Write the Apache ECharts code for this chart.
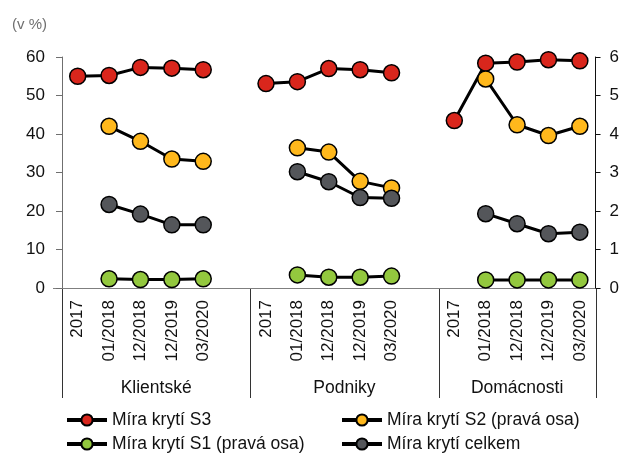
<!DOCTYPE html>
<html><head><meta charset="utf-8">
<script src="https://cdn.jsdelivr.net/npm/echarts@6/dist/echarts.min.js"></script>
<style>html,body{margin:0;padding:0;background:#fff}#c{width:622px;height:453px}</style>
</head><body><div id="c"></div>
<script>
// ---- data ----
const categories = ['2017','01/2018','12/2018','12/2019','03/2020','',
                    '2017','01/2018','12/2018','12/2019','03/2020','',
                    '2017','01/2018','12/2018','12/2019','03/2020'];
const groupNames = ['Klientské','Podniky','Domácnosti'];
const groupFirst = [0, 6, 12];
const groupLast  = [5, 11, 16];
const leftTicks = [0, 60, 10];   // min, max, interval
const rightTicks = [0, 6, 1];
const seriesNames = ['Míra krytí S3','Míra krytí S2 (pravá osa)','Míra krytí S1 (pravá osa)','Míra krytí celkem'];
const s3     = [55.0,55.2,57.3,57.1,56.7,null, 53.1,53.6,57.0,56.7,55.9,null, 43.5,58.4,58.7,59.3,59.0];
const s2     = [null,4.20,3.81,3.35,3.29,null, null,3.64,3.53,2.77,2.60,null, null,5.43,4.24,3.96,4.20];
const s1     = [null,0.24,0.22,0.22,0.24,null, null,0.34,0.28,0.28,0.31,null, null,0.21,0.21,0.21,0.21];
const celkem = [null,21.7,19.2,16.4,16.4,null, null,30.2,27.6,23.5,23.3,null, null,19.3,16.7,14.1,14.5];

const FONT = '"Liberation Sans", Arial, sans-serif';
const colors = ['#D9261C', '#FFB81C', '#93C83E', '#54565A'];
const chart = echarts.init(document.getElementById('c'), null, {renderer: 'canvas'});

function lineSeries(name, data, color, yIdx) {
  return {
    name, type: 'line', data, yAxisIndex: yIdx, symbol: 'circle', symbolSize: 16,
    connectNulls: false, showAllSymbol: true,
    lineStyle: {color: '#000', width: 3},
    itemStyle: {color: color, borderColor: '#000', borderWidth: 1.5},
    emphasis: {disabled: true}, animation: false
  };
}
const legendText = {fontSize: 17.5, color: '#111', fontFamily: FONT, lineHeight: 18};
function legendAt(names, left) {
  return {data: names, orient: 'vertical', left: left, top: 411, height: 44, padding: 0,
    itemWidth: 40, itemHeight: 14, itemGap: 6, selectedMode: false, textStyle: legendText,
    lineStyle: {width: 4, color: '#000'}};
}

chart.setOption({
  animation: false,
  title: {text: '(v %)', left: 7, top: 12, textStyle: {fontSize: 15, fontWeight: 'normal', color: '#707070', fontFamily: FONT}},
  grid: {left: 62, right: 26, top: 57, bottom: 165},
  xAxis: {
    type: 'category', data: categories, boundaryGap: true,
    axisLine: {lineStyle: {color: '#7f7f7f', width: 1}},
    axisTick: {show: false},
    axisLabel: {interval: 0, rotate: 90, margin: 12, fontSize: 17, color: '#111', fontFamily: FONT}
  },
  yAxis: [
    {type: 'value', position: 'left', min: leftTicks[0], max: leftTicks[1], interval: leftTicks[2],
     axisLine: {show: true, lineStyle: {color: '#6f6f6f'}},
     axisTick: {show: true, length: 6, lineStyle: {color: '#6f6f6f'}},
     splitLine: {show: false},
     axisLabel: {margin: 17, fontSize: 17, color: '#111', fontFamily: FONT}},
    {type: 'value', position: 'right', min: rightTicks[0], max: rightTicks[1], interval: rightTicks[2],
     axisLine: {show: true, lineStyle: {color: '#111'}},
     axisTick: {show: true, length: 5, lineStyle: {color: '#111'}},
     splitLine: {show: false},
     axisLabel: {margin: 14, fontSize: 17, color: '#111', fontFamily: FONT}}
  ],
  legend: [
    legendAt([seriesNames[0], seriesNames[2]], 65),
    legendAt([seriesNames[1], seriesNames[3]], 340)
  ],
  series: [
    lineSeries(seriesNames[0], s3, colors[0], 0),
    lineSeries(seriesNames[1], s2, colors[1], 1),
    lineSeries(seriesNames[2], s1, colors[2], 1),
    lineSeries(seriesNames[3], celkem, colors[3], 0)
  ]
});

// group separators and group labels placed via the axis scale
const x0 = chart.convertToPixel({xAxisIndex: 0}, 0);
const x1 = chart.convertToPixel({xAxisIndex: 0}, 1);
const band = x1 - x0;
const yZero = chart.convertToPixel({yAxisIndex: 0}, 0);
const g = [];
const bounds = new Set();
groupFirst.forEach((f, i) => {
  const l = chart.convertToPixel({xAxisIndex: 0}, f) - band / 2;
  const r = chart.convertToPixel({xAxisIndex: 0}, groupLast[i]) + band / 2;
  bounds.add(Math.round(l) + 0.5); bounds.add(Math.round(r) + 0.5);
  g.push({type: 'text', x: (l + r) / 2, y: yZero + 100,
    style: {text: groupNames[i], fill: '#111', font: '17.5px ' + FONT, align: 'center', verticalAlign: 'middle'}});
});
bounds.forEach(bx => g.push({type: 'line', shape: {x1: bx, y1: yZero, x2: bx, y2: yZero + 110}, style: {stroke: '#333', lineWidth: 1}}));
g.push({type: 'line', shape: {x1: x0 - band / 2 - 9, y1: Math.round(yZero) + 0.5, x2: x0 - band / 2, y2: Math.round(yZero) + 0.5}, style: {stroke: '#7f7f7f', lineWidth: 1}});
chart.setOption({graphic: g});
</script>
</body></html>
